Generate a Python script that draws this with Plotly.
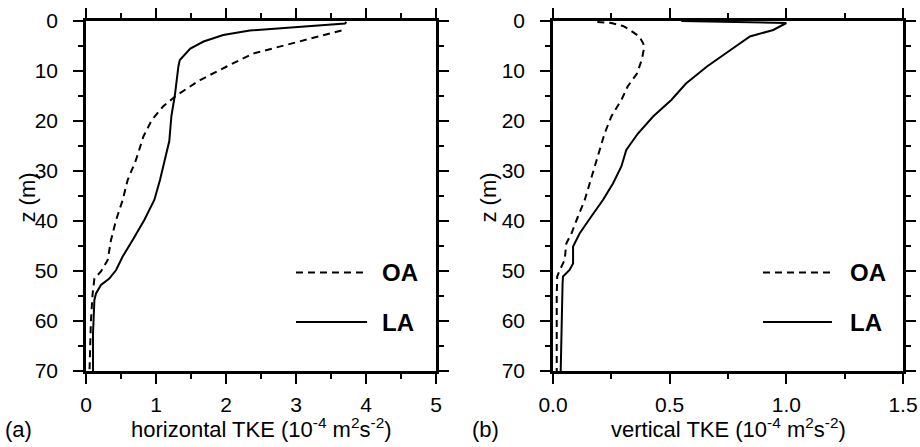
import plotly.graph_objects as go

# ---- data ----
z_la_h = [0.2, 0.5, 1.9, 2.8, 4.1, 5.5, 7.8, 9.1, 14.8, 19.0, 24.0, 27.8, 31.8, 35.8, 39.8, 43.8, 47.1, 49.8, 51.5, 52.8, 54.5, 55.8, 62.5, 70.0]
v_la_h = [3.72, 3.70, 2.34, 1.96, 1.68, 1.49, 1.34, 1.32, 1.27, 1.22, 1.19, 1.13, 1.057, 0.976, 0.833, 0.667, 0.524, 0.43, 0.333, 0.214, 0.143, 0.12, 0.10, 0.10]

z_oa_h = [1.9, 3.1, 4.5, 6.5, 9.1, 11.8, 14.8, 17.1, 19.8, 23.1, 27.8, 31.8, 35.8, 39.8, 43.8, 47.8, 50.1, 51.5, 54.5, 60.0, 70.0]
v_oa_h = [3.65, 3.32, 2.95, 2.39, 2.01, 1.63, 1.30, 1.10, 0.94, 0.82, 0.714, 0.595, 0.524, 0.43, 0.357, 0.31, 0.214, 0.12, 0.095, 0.07, 0.05]

z_la_v = [0.0, 0.4, 1.8, 3.1, 5.5, 9.1, 12.5, 15.8, 19.1, 22.5, 25.8, 29.1, 32.5, 35.8, 39.1, 42.5, 45.1, 48.5, 49.8, 51.1, 52.5, 70.0]
v_la_v = [0.55, 1.0, 0.944, 0.844, 0.77, 0.66, 0.57, 0.507, 0.429, 0.364, 0.314, 0.293, 0.257, 0.214, 0.164, 0.114, 0.086, 0.086, 0.071, 0.043, 0.041, 0.033]

z_oa_v = [0.2, 0.4, 1.0, 1.8, 3.1, 4.5, 5.5, 7.8, 10.5, 13.1, 15.8, 19.1, 22.5, 25.8, 29.1, 32.5, 35.8, 39.1, 42.5, 44.5, 47.8, 49.8, 51.1, 55.0, 70.0]
v_oa_v = [0.19, 0.25, 0.30, 0.33, 0.37, 0.387, 0.39, 0.38, 0.36, 0.32, 0.293, 0.25, 0.221, 0.20, 0.179, 0.157, 0.136, 0.107, 0.079, 0.057, 0.05, 0.029, 0.018, 0.016, 0.016]

series_names = ["OA", "LA"]
panel_labels = ["(a)", "(b)"]
x_titles = ["horizontal TKE (10<sup>-4</sup> m<sup>2</sup>s<sup>-2</sup>)",
            "vertical TKE (10<sup>-4</sup> m<sup>2</sup>s<sup>-2</sup>)"]
y_title = "z (m)"

FONT = "Liberation Sans, Arial, Helvetica, sans-serif"
DASH = "7px,5px"

fig = go.Figure()
fig.add_trace(go.Scatter(x=v_oa_h, y=z_oa_h, mode="lines", line=dict(color="black", width=2, dash=DASH),
                         xaxis="x", yaxis="y", showlegend=False))
fig.add_trace(go.Scatter(x=v_la_h, y=z_la_h, mode="lines", line=dict(color="black", width=2),
                         xaxis="x", yaxis="y", showlegend=False))
fig.add_trace(go.Scatter(x=v_oa_v, y=z_oa_v, mode="lines", line=dict(color="black", width=2, dash=DASH),
                         xaxis="x2", yaxis="y2", showlegend=False))
fig.add_trace(go.Scatter(x=v_la_v, y=z_la_v, mode="lines", line=dict(color="black", width=2),
                         xaxis="x2", yaxis="y2", showlegend=False))

W, H = 920, 447
L1, R1 = 86, 436
L2, R2 = 553, 903
T, B = 21, 371
ydom = [1 - B / H, 1 - T / H]

common = dict(showline=True, linewidth=2.5, linecolor="black", mirror="ticks",
              ticks="outside", ticklen=10, tickwidth=1.5, tickcolor="black",
              showgrid=False, zeroline=False, automargin=False,
              tickfont=dict(family=FONT, size=21, color="black"))
minor_common = dict(ticks="outside", ticklen=5, tickwidth=1.5, tickcolor="black")

fig.update_layout(
    width=W, height=H,
    margin=dict(l=0, r=0, t=0, b=0, autoexpand=False),
    paper_bgcolor="white", plot_bgcolor="white",
    font=dict(family=FONT, color="black"),
    xaxis=dict(domain=[L1 / W, R1 / W], range=[0, 5], tick0=0, dtick=1, anchor="y",
               minor=dict(dtick=0.5, **minor_common), ticklabelstandoff=3, **common),
    yaxis=dict(domain=ydom, range=[70, 0], tick0=0, dtick=10, anchor="x",
               minor=dict(dtick=5, **minor_common), ticklabelstandoff=11, **common),
    xaxis2=dict(domain=[L2 / W, R2 / W], range=[0, 1.5], tick0=0, dtick=0.5, tickformat=".1f", anchor="y2",
                minor=dict(dtick=0.25, **minor_common), ticklabelstandoff=3, **common),
    yaxis2=dict(domain=ydom, range=[70, 0], tick0=0, dtick=10, anchor="x2",
                minor=dict(dtick=5, **minor_common), ticklabelstandoff=11, **common),
)

annotations = []
shapes = []
for i, (xr, yr) in enumerate([("x", "y"), ("x2", "y2")]):
    annotations.append(dict(text=x_titles[i], xref=f"{xr} domain", yref="paper", x=0.5, y=1 - 428 / H,
                            xanchor="center", yanchor="middle", showarrow=False,
                            font=dict(family=FONT, size=22, color="black")))
    annotations.append(dict(text=panel_labels[i], xref="paper", yref="paper",
                            x=(3 if i == 0 else 470) / W, y=1 - 429 / H,
                            xanchor="left", yanchor="middle", showarrow=False,
                            font=dict(family=FONT, size=22, color="black")))
    annotations.append(dict(text=y_title, xref="paper", yref=f"{yr} domain",
                            x=(27 if i == 0 else 488) / W,
                            y=(371 - 197.5) / 350, textangle=-90,
                            xanchor="center", yanchor="middle", showarrow=False,
                            font=dict(family=FONT, size=22, color="black")))
    for j, (nm, ly) in enumerate(zip(series_names, [(371 - 272.5) / 350, (371 - 322) / 350])):
        x0, x1, xt = (0.60, 0.803, (380 - L1) / 350) if i == 0 else (0.60, 0.797, (848 - L2) / 350)
        shapes.append(dict(type="line", xref=f"{xr} domain", yref=f"{yr} domain",
                           x0=x0, x1=x1, y0=ly, y1=ly,
                           line=dict(color="black", width=2, dash=DASH if j == 0 else "solid")))
        annotations.append(dict(text=f"<b>{nm}</b>", xref=f"{xr} domain", yref=f"{yr} domain",
                                x=xt, y=ly, xanchor="left", yanchor="middle", showarrow=False,
                                font=dict(family=FONT, size=24, color="black")))

fig.update_layout(annotations=annotations, shapes=shapes)
fig.write_html("out.html", config={"displayModeBar": False},
               post_script="document.body.style.margin='0px';document.body.style.overflow='hidden';")
